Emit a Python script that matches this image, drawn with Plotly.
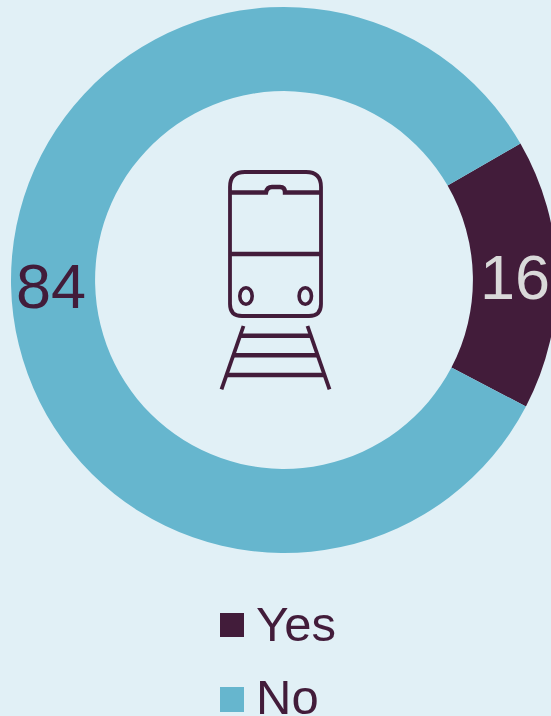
import plotly.graph_objects as go

categories = ["Yes", "No"]
values = [16, 84]
slice_colors = ["#421C3A", "#66B6CE"]
label_colors = ["#D9D9D9", "#421C3A"]
BG = "#E1F0F6"
INK = "#421C3A"
W, H = 600, 716
FONT = "Liberation Sans, Arial, sans-serif"


def X(p):
    return p / W


def Y(p):
    return 1 - p / H


def path(*cmds):
    out = []
    for c in cmds:
        if isinstance(c, str):
            out.append(c)
        else:
            out.append(f"{X(c[0]):.5f},{Y(c[1]):.5f}")
    return " ".join(out)


def stroke(d, w=3.8):
    return dict(type="path", xref="paper", yref="paper", path=d,
                line=dict(color=INK, width=w), layer="above")


def ellipse(cx, cy, rx, ry, w=3.6):
    return dict(type="circle", xref="paper", yref="paper",
                x0=X(cx - rx), x1=X(cx + rx), y0=Y(cy + ry), y1=Y(cy - ry),
                line=dict(color=INK, width=w), layer="above")


def swatch(x0, y0, x1, y1, color):
    return dict(type="rect", xref="paper", yref="paper",
                x0=X(x0), x1=X(x1), y0=Y(y1), y1=Y(y0),
                fillcolor=color, line=dict(width=0), layer="above")


def text(t, cx, cy, size, color, anchor="center"):
    return dict(text=t, xref="paper", yref="paper", x=X(cx), y=Y(cy),
                xanchor=anchor, yanchor="middle", showarrow=False,
                font=dict(family=FONT, size=size, color=color))


fig = go.Figure(go.Pie(
    labels=categories, values=values, sort=False, direction="clockwise",
    rotation=60, hole=0.692, textinfo="none",
    marker=dict(colors=slice_colors, line=dict(width=0)),
    domain=dict(x=[X(11), X(557)], y=[Y(553), Y(7)]),
    showlegend=False,
))

shapes = [
    # body
    stroke(path("M", (245, 172), "L", (306, 172), "Q", (321, 172), (321, 187), "L", (321, 304),
                "Q", (321, 316), (309, 316), "L", (242, 316), "Q", (230, 316), (230, 304),
                "L", (230, 187), "Q", (230, 172), (245, 172), "Z")),
    # windscreen top with bump
    stroke(path("M", (230, 192.5), "L", (266, 192.5), "Q", (267, 187), (272, 187), "L", (280, 187),
                "Q", (285, 187), (285, 192.5), "L", (321, 192.5)), 4.4),
    stroke(path("M", (230, 254), "L", (321, 254)), 4.4),
    ellipse(246, 296, 6.2, 8.2),
    ellipse(305.3, 296, 6.2, 8.2),
    # tracks
    stroke(path("M", (243.5, 326), "L", (221.5, 389.5))),
    stroke(path("M", (307.5, 326), "L", (329.5, 389.5))),
    stroke(path("M", (241, 335.7), "L", (310, 335.7)), 4.4),
    stroke(path("M", (234, 355.3), "L", (317, 355.3)), 4.4),
    stroke(path("M", (227, 375), "L", (324, 375)), 4.4),
    # legend swatches
    swatch(220, 613, 244, 637, slice_colors[0]),
    swatch(220, 687, 244, 712, slice_colors[1]),
]

annotations = [
    text(str(values[0]), 515, 276.5, 63, label_colors[0]),
    text(str(values[1]), 50.5, 285.5, 63, label_colors[1]),
    text(categories[0], 253.5, 624, 49, INK, "left"),
    text(categories[1], 253.5, 696.5, 49, INK, "left"),
]

fig.update_layout(
    width=W, height=H, margin=dict(l=0, r=0, t=0, b=0),
    paper_bgcolor=BG, plot_bgcolor=BG, shapes=shapes, annotations=annotations,
)

fig.write_html(
    "out.html",
    config={"displayModeBar": False},
    post_script="document.body.style.margin='0';document.body.style.overflow='hidden';"
                "document.documentElement.style.overflow='hidden';document.body.style.background='%s';" % BG,
)
